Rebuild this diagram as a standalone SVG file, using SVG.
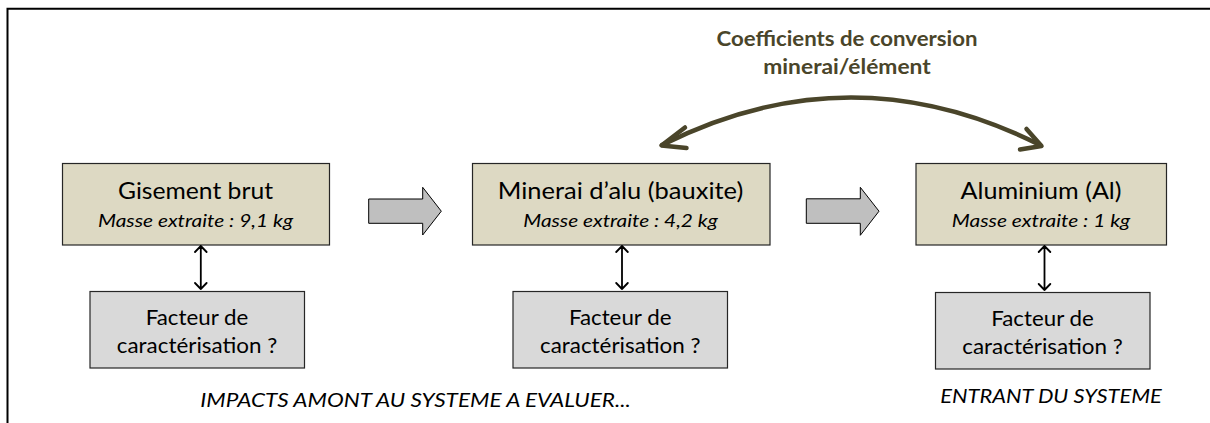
<svg xmlns="http://www.w3.org/2000/svg" width="1210" height="423" viewBox="0 0 1210 423">
<style>
.main{fill:#ddd9c3;stroke:#262626;stroke-width:1.2}
.fac{fill:#d9d9d9;stroke:#262626;stroke-width:1.2}
.ttl{font-family:Lato,"Liberation Sans",sans-serif;font-size:23px;fill:#000;text-anchor:middle}
.sub{font-family:Lato,"Liberation Sans",sans-serif;font-size:17.5px;font-style:italic;fill:#000;text-anchor:middle}
.ft{font-family:Lato,"Liberation Sans",sans-serif;font-size:20.5px;fill:#000;text-anchor:middle}
.bot{font-family:Lato,"Liberation Sans",sans-serif;font-size:20px;font-style:italic;fill:#000;text-anchor:middle}
.hd{font-family:Lato,"Liberation Sans",sans-serif;font-size:20.5px;font-weight:bold;fill:#4a452a;text-anchor:middle}
.big{fill:#bfbfbf;stroke:#000;stroke-width:1}
.dbl{fill:none;stroke:#000;stroke-width:1.8;stroke-linecap:round;stroke-linejoin:round}
.curve{fill:none;stroke:#4a452a;stroke-width:4.5;stroke-linecap:round;stroke-linejoin:round}
</style>
<rect width="1210" height="423" fill="#fff"/>
<polyline points="7.5,423 7.5,8.7 1210,8.7" fill="none" stroke="#000" stroke-width="2"/>

<g id="gisement">
<rect class="main" x="62.5" y="163.5" width="267" height="81.5"/>
<text class="ttl" x="195.5" y="199" textLength="155" lengthAdjust="spacingAndGlyphs">Gisement brut</text>
<text class="sub" x="195.5" y="227" textLength="195" lengthAdjust="spacingAndGlyphs">Masse extraite : 9,1 kg</text>
</g>
<g id="minerai">
<rect class="main" x="472.5" y="163.5" width="297.5" height="81.5"/>
<text class="ttl" x="620.5" y="199" textLength="245.5" lengthAdjust="spacingAndGlyphs">Minerai d’alu (bauxite)</text>
<text class="sub" x="620.5" y="227" textLength="194.5" lengthAdjust="spacingAndGlyphs">Masse extraite : 4,2 kg</text>
</g>
<g id="aluminium">
<rect class="main" x="916" y="163.5" width="250.5" height="81.5"/>
<text class="ttl" x="1041" y="199" textLength="161" lengthAdjust="spacingAndGlyphs">Aluminium (Al)</text>
<text class="sub" x="1041" y="227" textLength="178.5" lengthAdjust="spacingAndGlyphs">Masse extraite : 1 kg</text>
</g>
<g id="facteur1">
<rect class="fac" x="90" y="291.5" width="214.5" height="76.5"/>
<text class="ft" x="197" y="325" textLength="102.5" lengthAdjust="spacingAndGlyphs">Facteur de</text>
<text class="ft" x="197" y="353.3" textLength="160.5" lengthAdjust="spacingAndGlyphs">caractérisation ?</text>
</g>
<g id="facteur2">
<rect class="fac" x="513" y="291.5" width="214.5" height="76.5"/>
<text class="ft" x="620.2" y="325" textLength="102.5" lengthAdjust="spacingAndGlyphs">Facteur de</text>
<text class="ft" x="620.2" y="353.3" textLength="160.5" lengthAdjust="spacingAndGlyphs">caractérisation ?</text>
</g>
<g id="facteur3">
<rect class="fac" x="935.5" y="292.5" width="214.5" height="76.5"/>
<text class="ft" x="1042.5" y="326" textLength="102.5" lengthAdjust="spacingAndGlyphs">Facteur de</text>
<text class="ft" x="1042.5" y="354.3" textLength="160.5" lengthAdjust="spacingAndGlyphs">caractérisation ?</text>
</g>
<g id="labels">
<text class="hd" x="847" y="46" textLength="261" lengthAdjust="spacingAndGlyphs">Coefficients de conversion</text>
<text class="hd" x="847" y="74" textLength="167.5" lengthAdjust="spacingAndGlyphs">minerai/élément</text>
<text class="bot" x="415.5" y="407.3" textLength="430.5" lengthAdjust="spacingAndGlyphs">IMPACTS AMONT AU SYSTEME A EVALUER...</text>
<text class="bot" x="1051" y="403.3" textLength="221.5" lengthAdjust="spacingAndGlyphs">ENTRANT DU SYSTEME</text>
</g>

<g id="connectors">
<polygon class="big" points="368.7,199 422.7,199 422.7,187.3 441.3,211.2 422.7,235 422.7,223.3 368.7,223.3"/>
<polygon class="big" points="806.3,198.8 860.3,198.8 860.3,187.3 879,211.2 860.3,235.3 860.3,223.3 806.3,223.3"/>
<path class="dbl" d="M200.8,246 V289 M195,252 L200.8,246 L206.6,252 M195,283 L200.8,289 L206.6,283"/>
<path class="dbl" d="M622,246 V289 M616.2,252 L622,246 L627.8,252 M616.2,283 L622,289 L627.8,283"/>
<path class="dbl" d="M1044.5,246 V290 M1038.7,252 L1044.5,246 L1050.3,252 M1038.7,284 L1044.5,290 L1050.3,284"/>
<path class="curve" d="M662,145 Q851,50 1040,145"/>
<path class="curve" d="M685,127.5 L661.5,145.5 L686.5,148"/>
<path class="curve" d="M1026.5,129 L1041.5,146 L1020,149.5"/>
</g>
</svg>
